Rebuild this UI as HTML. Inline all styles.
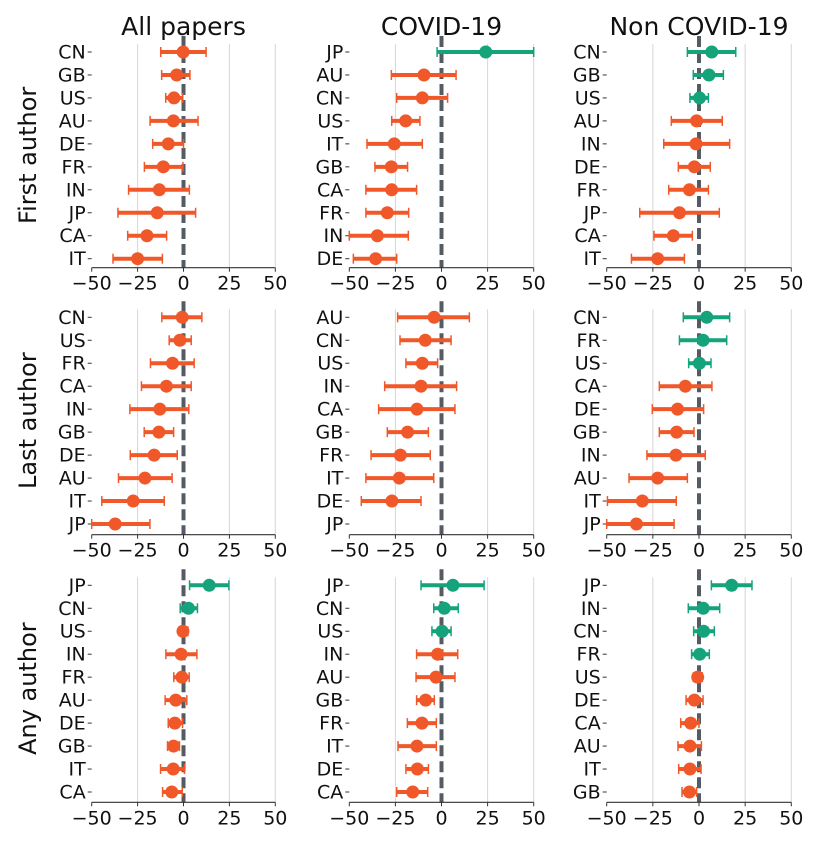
<!DOCTYPE html>
<html><head><meta charset="utf-8"><style>
html,body{margin:0;padding:0;background:#fff;}
svg{display:block;font-family:"DejaVu Sans","Liberation Sans",sans-serif;}
</style></head><body>
<svg id="chart" width="819" height="844" viewBox="0 0 819 844" xmlns="http://www.w3.org/2000/svg"></svg>
<script>
const colTitles = ["All papers","COVID-19","Non COVID-19"];
const rowTitles = ["First author","Last author","Any author"];
const xTicks = [-50,-25,0,25,50];
// Row 1: First author
const catsR1C1 = ["CN","GB","US","AU","DE","FR","IN","JP","CA","IT"];
const valR1C1 = [-0.2,-3.7,-5.2,-5.5,-8.3,-11,-13.2,-14.3,-19.9,-25];
const loR1C1 = [-12.4,-11.9,-9.7,-18.2,-16.8,-21.3,-29.9,-35.7,-30.4,-38.4];
const hiR1C1 = [12.3,3.5,-0.4,7.9,0,-0.3,3.2,6.6,-9.2,-11.5];
const catsR1C2 = ["JP","AU","CN","US","IT","GB","CA","FR","IN","DE"];
const valR1C2 = [24,-9.5,-10.4,-19.4,-25.6,-27.2,-27,-29.4,-34.8,-35.7];
const loR1C2 = [-2.4,-27.2,-24.3,-27,-40.4,-36.1,-41,-41,-50.5,-47.8];
const hiR1C2 = [50,7.9,3.3,-11.7,-10.4,-18.4,-13.5,-17.8,-18,-24.3];
const catsR1C3 = ["CN","GB","US","AU","IN","DE","FR","JP","CA","IT"];
const valR1C3 = [6.9,5.4,0.3,-1.3,-1.6,-2.5,-5.2,-10.6,-13.9,-22.4];
const loR1C3 = [-6.3,-3.1,-4.9,-15,-19.1,-11.2,-16.4,-32.1,-24.4,-36.6];
const hiR1C3 = [19.9,13.2,5.1,12.6,16.6,6.1,5.1,11,-3.6,-7.9];
// Row 2: Last author
const catsR2C1 = ["CN","US","FR","CA","IN","GB","DE","AU","IT","JP"];
const valR2C1 = [-0.7,-2,-6,-9.3,-12.9,-13.4,-16,-21,-27.4,-37.2];
const loR2C1 = [-11.8,-7.8,-18,-22.9,-29.2,-21.4,-29,-35.4,-44.5,-50.6];
const hiR2C1 = [10,4.2,5.8,4.2,2.9,-5.4,-3.4,-6.2,-10.5,-18.3];
const catsR2C2 = ["AU","CN","US","IN","CA","GB","FR","IT","DE","JP"];
const valR2C2 = [-4,-8.8,-10.4,-11.1,-13.3,-18.4,-22.3,-22.9,-26.9,null];
const loR2C2 = [-23.8,-22.5,-19.3,-30.8,-34.1,-29.4,-38.2,-41,-43.5,null];
const hiR2C2 = [15.1,5.2,-2.1,8.2,7.3,-7.1,-6.1,-4.2,-11.1,null];
const catsR2C3 = ["CN","FR","US","CA","DE","GB","IN","AU","IT","JP"];
const valR2C3 = [4.2,2.2,0.2,-7.4,-11.6,-12.1,-12.5,-22.4,-30.7,-33.9];
const loR2C3 = [-8.5,-10.6,-5.6,-21.5,-25.3,-21.5,-28.2,-37.9,-49.6,-50];
const hiR2C3 = [16.6,15,6.5,7,2.5,-2.7,3.4,-6.3,-12.3,-13.5];
// Row 3: Any author
const catsR3C1 = ["JP","CN","US","IN","FR","AU","DE","GB","IT","CA"];
const valR3C1 = [14,2.7,-0.3,-1.3,-0.9,-4.2,-4.7,-5.4,-5.6,-6.4];
const loR3C1 = [3.3,-1.8,-2.4,-9.6,-5.3,-10,-8.3,-8.7,-12.5,-11.4];
const hiR3C1 = [24.7,7.6,2.4,7.3,3.1,1.8,-0.5,-2.2,0.5,-0.7];
const catsR3C2 = ["JP","CN","US","IN","AU","GB","FR","IT","DE","CA"];
const valR3C2 = [6.2,1.5,0.3,-2.1,-3,-8.6,-10.6,-13.3,-13.1,-15.6];
const loR3C2 = [-11.1,-4.2,-5.2,-13.5,-13.8,-13.5,-18.5,-23.6,-19.3,-24.3];
const hiR3C2 = [23.1,9.1,5.2,8.8,7.3,-3.9,-2.8,-2.8,-7.1,-7.5];
const catsR3C3 = ["JP","IN","CN","FR","US","DE","CA","AU","IT","GB"];
const valR3C3 = [17.7,2.3,2.5,0.4,-0.7,-2.5,-4.5,-4.9,-4.9,-5.2];
const loR3C3 = [6.7,-5.8,-2.9,-4,-3.1,-7,-9.9,-11.4,-11,-9.2];
const hiR3C3 = [28.7,11.2,8.3,5.6,1.8,2.2,0,1.3,1.1,-1.3];

const panels = [
 [[catsR1C1,valR1C1,loR1C1,hiR1C1],[catsR1C2,valR1C2,loR1C2,hiR1C2],[catsR1C3,valR1C3,loR1C3,hiR1C3]],
 [[catsR2C1,valR2C1,loR2C1,hiR2C1],[catsR2C2,valR2C2,loR2C2,hiR2C2],[catsR2C3,valR2C3,loR2C3,hiR2C3]],
 [[catsR3C1,valR3C1,loR3C1,hiR3C1],[catsR3C2,valR3C2,loR3C2,hiR3C2],[catsR3C3,valR3C3,loR3C3,hiR3C3]]
];
const colX0 = [91.7,349.3,606.7], colX1 = [275.3,533.7,791.3];
const rowY0 = [52,317.3,585.3], rowY1 = [258.7,524,792], rowAxis = [267.7,534.7,802.3];
const NS = "http://www.w3.org/2000/svg";
const svg = document.getElementById("chart");
function mk(tag, attrs, parent){const e=document.createElementNS(NS,tag);for(const k in attrs)e.setAttribute(k,attrs[k]);(parent||svg).appendChild(e);return e;}
const ORANGE="#f0582a", GREEN="#14a37a";

colTitles.forEach((t,c)=>{
  const e=mk("text",{x:(colX0[c]+colX1[c])/2,y:35,"text-anchor":"middle","font-size":"25",fill:"#111"});
  e.textContent=t;
  
  
});
rowTitles.forEach((t,r)=>{
  const cy=(rowY0[r]+rowY1[r])/2;
  const e=mk("text",{x:0,y:0,transform:`translate(36,${cy}) rotate(-90)`,"text-anchor":"middle","font-size":"24",fill:"#111"});
  e.textContent=t;
  
  
});

for(let r=0;r<3;r++)for(let c=0;c<3;c++){
  const [cats,vals,lo,hi]=panels[r][c];
  const g=mk("g",{});
  
  
  const x=v=>colX0[c]+(Math.max(-50,Math.min(50,v))+50)/100*(colX1[c]-colX0[c]);
  const step=(rowY1[r]-rowY0[r])/(cats.length-1);
  const y=i=>rowY0[r]+i*step;
  const top=rowY0[r]-8, ax=rowAxis[r];
  xTicks.forEach(t=>{
    if(t===0||t===-50) return;
    const gl=mk("line",{x1:x(t),x2:x(t),y1:top,y2:ax,stroke:"#d6d6d6","stroke-width":1},g);
    
    
  });
  const zl=mk("line",{x1:x(0),x2:x(0),y1:rowY0[r]-16,y2:ax,stroke:"#555b63","stroke-width":4,"stroke-dasharray":"11 5"},g);
  
  
  const xa=mk("line",{x1:colX0[c],x2:colX1[c],y1:ax,y2:ax,stroke:"#333","stroke-width":1.2},g);
  
  
  xTicks.forEach(t=>{
    mk("line",{x1:x(t),x2:x(t),y1:ax,y2:ax+4,stroke:"#333","stroke-width":1},g);
    const tl=mk("text",{x:x(t),y:ax+22,"text-anchor":"middle","font-size":"19",fill:"#111"},g);
    tl.textContent=(t<0?"\u2212"+(-t):String(t));
    
    
  });
  cats.forEach((cat,i)=>{
    mk("line",{x1:colX0[c]-4,x2:colX0[c],y1:y(i),y2:y(i),stroke:"#333","stroke-width":1},g);
    const cl=mk("text",{x:colX0[c]-6,y:y(i)+6.5,"text-anchor":"end","font-size":"19",fill:"#111"},g);
    cl.textContent=cat;
    
    
    if(vals[i]===null) return;
    const col=vals[i]>0?GREEN:ORANGE;
    const eb=mk("line",{x1:x(lo[i]),x2:x(hi[i]),y1:y(i),y2:y(i),stroke:col,"stroke-width":4},g);
    
    
    [lo[i],hi[i]].forEach(v=>{
      mk("line",{x1:x(v),x2:x(v),y1:y(i)-5,y2:y(i)+5,stroke:col,"stroke-width":1.5},g);
    });
    const pt=mk("circle",{cx:x(vals[i]),cy:y(i),r:6.5,fill:col},g);
    
    
  });
}
</script>
</body></html>
